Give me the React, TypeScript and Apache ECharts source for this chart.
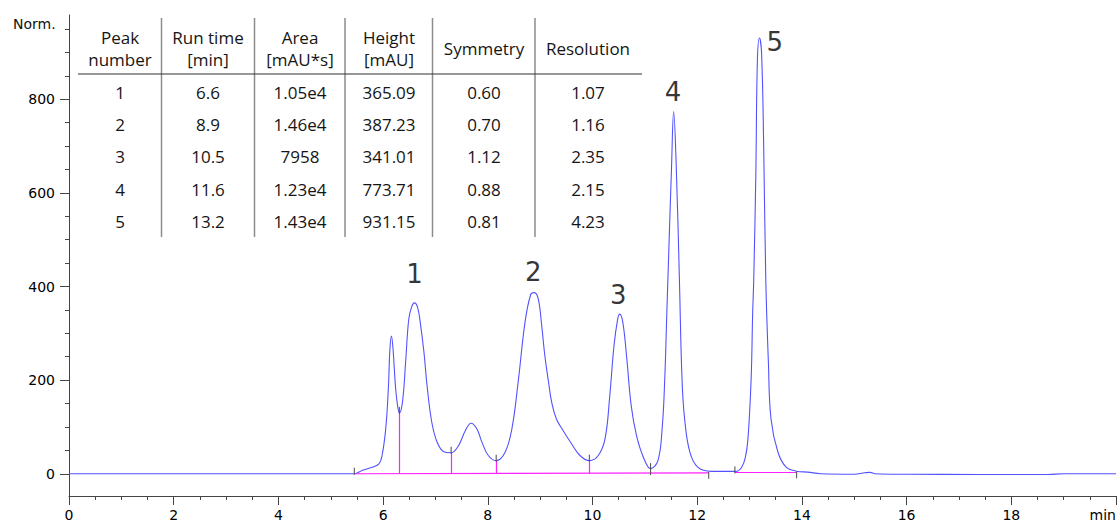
import { useEffect, useRef } from 'react';
import * as echarts from 'echarts';

// Detector trace: retention time (min) and normalized signal (mAU)
const traceTime = [
  0, 2, 4, 5.0, 5.45, 5.6, 5.79, 5.92, 5.98, 6.05, 6.1, 6.13, 6.16, 6.19, 6.24, 6.28, 6.31,
  6.37, 6.43, 6.49, 6.55, 6.6, 6.66, 6.71, 6.78, 6.84, 6.93, 7.03, 7.16, 7.3,
  7.44, 7.57, 7.68, 7.79, 7.89, 8.01, 8.16, 8.33, 8.46, 8.58, 8.71, 8.82, 8.89,
  8.965, 9.03, 9.09, 9.16, 9.22, 9.31, 9.44, 9.6, 9.76, 9.94, 10.11, 10.24, 10.33,
  10.41, 10.48, 10.52, 10.58, 10.65, 10.74, 10.84, 10.97, 11.11, 11.25, 11.33, 11.38,
  11.42, 11.44, 11.51, 11.55, 11.6, 11.66, 11.71, 11.76, 11.86, 12.01, 12.27, 12.74,
  12.85, 12.92, 12.97, 13.03, 13.06, 13.08, 13.12, 13.15, 13.19, 13.23, 13.27, 13.31,
  13.36, 13.41, 13.54, 13.7, 13.92, 14.11, 14.36, 15.0, 15.2, 15.3, 15.4, 16.0, 17.4,
  18.7, 19.0, 20,
];
const traceSignal = [
  0, 0, 0, 0, 0, 7, 14, 21, 39, 96, 181, 266, 294, 266, 181, 143, 130,
  153, 238, 330, 358, 365, 355, 323, 260, 188, 110, 68, 47, 45,
  60, 92, 108, 96, 67, 39, 28, 46, 96, 196, 323, 383, 387,
  373, 316, 252, 196, 153, 117, 92, 64, 39, 28, 39, 75, 167,
  273, 330, 341, 323, 252, 145, 82, 36, 11, 28, 96, 202,
  345, 415, 656, 774, 656, 415, 202, 117, 46, 14, 5, 5,
  14, 35, 75, 202, 345, 415, 640, 884, 931, 898, 700, 415,
  238, 117, 47, 14, 5, 3.5, 0, -1, 2, 3, 0, -1, -1.5,
  -1.5, 0, 0,
];

// Peak report table
const tableHeaders = ['Peak\nnumber', 'Run time\n[min]', 'Area\n[mAU*s]', 'Height\n[mAU]', 'Symmetry', 'Resolution'];
const peakNumbers = ['1', '2', '3', '4', '5'];
const runTimes = ['6.6', '8.9', '10.5', '11.6', '13.2'];
const areas = ['1.05e4', '1.46e4', '7958', '1.23e4', '1.43e4'];
const heights = ['365.09', '387.23', '341.01', '773.71', '931.15'];
const symmetries = ['0.60', '0.70', '1.12', '0.88', '0.81'];
const resolutions = ['1.07', '1.16', '2.35', '2.15', '4.23'];

// Peak number annotations (time, level)
const peakLabelTime = [6.6, 8.87, 10.49, 11.54, 13.48];
const peakLabelLevel = [426, 430, 381, 816, 922];

// Integration: drop lines, baselines and start/end markers
const dropTime = [6.31, 7.3, 8.16, 9.94];
const dropLevel = [130, 45, 28, 28];
const baselineStart = [[5.45, 0], [12.72, 3]];
const baselineEnd = [[12.22, 2], [13.9, 3]];
const markerTime = [5.45, 6.31, 7.3, 8.16, 9.94, 11.11, 12.22, 12.72, 13.9];
const markerLevel = [0, 130, 45, 28, 28, 10, 2, 3, 3];
const markerDir = [1, 1, 1, 1, 1, 0, -1, 1, -1];

// Axis ticks
const yLabelValues = [0, 200, 400, 600, 800];
const yMinorValues = [50, 100, 150, 250, 300, 350, 450, 500, 550, 650, 700, 750, 850, 900, 950];

const AXIS_COLOR = '#444';
const AXIS_FONT = 'DejaVu Sans';
const TABLE_FONT = 'Open Sans';

export default function App() {
  const ref = useRef<HTMLDivElement>(null);

  useEffect(() => {
    if (!ref.current) return;
    const chart = echarts.init(ref.current, undefined, { renderer: 'svg' });

    const trace = traceTime.map((t, i) => [t, traceSignal[i]]);

    // table graphics
    const colCenters = [120, 208, 300, 389, 484, 588];
    const rowY = [92, 124, 156.5, 189, 221];
    const separators = [161.5, 254.5, 345, 432.5, 535];
    const columns = [peakNumbers, runTimes, areas, heights, symmetries, resolutions];
    const tableEls: any[] = [];
    tableHeaders.forEach((h, c) => {
      tableEls.push({
        type: 'text',
        x: colCenters[c],
        y: 48,
        style: {
          text: h,
          font: `17px "${TABLE_FONT}"`,
          fill: '#151515',
          align: 'center',
          verticalAlign: 'middle',
          lineHeight: 22,
        },
      });
    });
    columns.forEach((col, c) => {
      col.forEach((v, r) => {
        tableEls.push({
          type: 'text',
          x: colCenters[c],
          y: rowY[r],
          style: {
            text: v,
            font: `17px "${TABLE_FONT}"`,
            fill: '#151515',
            align: 'center',
            verticalAlign: 'middle',
          },
        });
      });
    });
    separators.forEach((x) => {
      tableEls.push({
        type: 'line',
        shape: { x1: x, y1: 18, x2: x, y2: 237 },
        style: { stroke: '#8c8c8c', lineWidth: 1.5 },
      });
    });
    tableEls.push({
      type: 'line',
      shape: { x1: 78, y1: 74, x2: 642, y2: 74 },
      style: { stroke: '#333', lineWidth: 1.2 },
    });
    tableEls.push({
      type: 'text',
      x: 13,
      y: 24,
      style: {
        text: 'Norm.',
        font: `14px "${AXIS_FONT}"`,
        fill: '#111',
        align: 'left',
        verticalAlign: 'middle',
      },
    });

    const yCommon = {
      type: 'value' as const,
      min: -47.5,
      max: 980,
      splitLine: { show: false },
    };

    chart.setOption({
      animation: false,
      grid: { left: 69, right: 0, top: 15, bottom: 25, containLabel: false },
      xAxis: {
        type: 'value',
        min: 0,
        max: 20,
        interval: 2,
        axisLine: { show: true, onZero: false, lineStyle: { color: AXIS_COLOR, width: 1 } },
        axisTick: { show: true, length: 9, lineStyle: { color: AXIS_COLOR } },
        minorTick: { show: true, splitNumber: 4, length: 4, lineStyle: { color: AXIS_COLOR } },
        splitLine: { show: false },
        axisLabel: {
          color: '#000',
          fontFamily: AXIS_FONT,
          fontSize: 14,
          margin: 12,
          showMaxLabel: true,
          alignMaxLabel: 'right',
          formatter: (v: number) => (v === 20 ? 'min' : String(v)),
        },
      },
      yAxis: [
        {
          ...yCommon,
          axisLine: { show: true, onZero: false, lineStyle: { color: AXIS_COLOR, width: 1 } },
          axisTick: { show: true, length: 9, customValues: yLabelValues, lineStyle: { color: AXIS_COLOR } },
          axisLabel: {
            color: '#000',
            fontFamily: AXIS_FONT,
            fontSize: 14,
            margin: 14,
            customValues: yLabelValues,
          },
        },
        {
          ...yCommon,
          position: 'left',
          axisLine: { show: false },
          axisTick: { show: true, length: 4, customValues: yMinorValues, lineStyle: { color: AXIS_COLOR } },
          axisLabel: { show: false },
        },
      ],
      series: [
        {
          type: 'line',
          data: trace,
          showSymbol: false,
          smooth: 0.4,
          lineStyle: { color: '#5252ff', width: 1.1 },
          z: 2,
        },
        {
          type: 'lines',
          coordinateSystem: 'cartesian2d',
          polyline: false,
          data: [
            ...dropTime.map((t, i) => ({ coords: [[t, 0], [t, dropLevel[i]]] })),
            ...baselineStart.map((s, i) => ({ coords: [s, baselineEnd[i]] })),
          ],
          lineStyle: { color: '#ff22ff', width: 1.2, opacity: 1 },
          z: 3,
        },
        {
          type: 'custom',
          data: markerTime.map((t, i) => [t, markerLevel[i], markerDir[i]]),
          renderItem: (_params: any, api: any) => {
            const p = api.coord([api.value(0), api.value(1)]);
            const dir = api.value(2);
            let y1 = p[1] + 1;
            let y2 = p[1] - 6;
            if (dir < 0) {
              y1 = p[1] - 1;
              y2 = p[1] + 6;
            } else if (dir === 0) {
              y1 = p[1] - 6;
              y2 = p[1] + 6;
            }
            return {
              type: 'line',
              shape: { x1: p[0], y1, x2: p[0], y2 },
              style: { stroke: '#4a4a4a', lineWidth: 1 },
            };
          },
          z: 4,
        },
        {
          type: 'scatter',
          symbolSize: 0,
          data: peakLabelTime.map((t, i) => ({
            value: [t, peakLabelLevel[i]],
            label: { formatter: peakNumbers[i] },
          })),
          label: {
            show: true,
            position: 'inside',
            fontFamily: AXIS_FONT,
            fontSize: 26,
            color: '#000',
          },
          z: 5,
        },
      ],
      graphic: tableEls,
    });

    return () => chart.dispose();
  }, []);

  return (
    <div
      ref={ref}
      style={{ position: 'fixed', left: 0, top: 0, width: 1119, height: 522, background: '#fff' }}
    />
  );
}
